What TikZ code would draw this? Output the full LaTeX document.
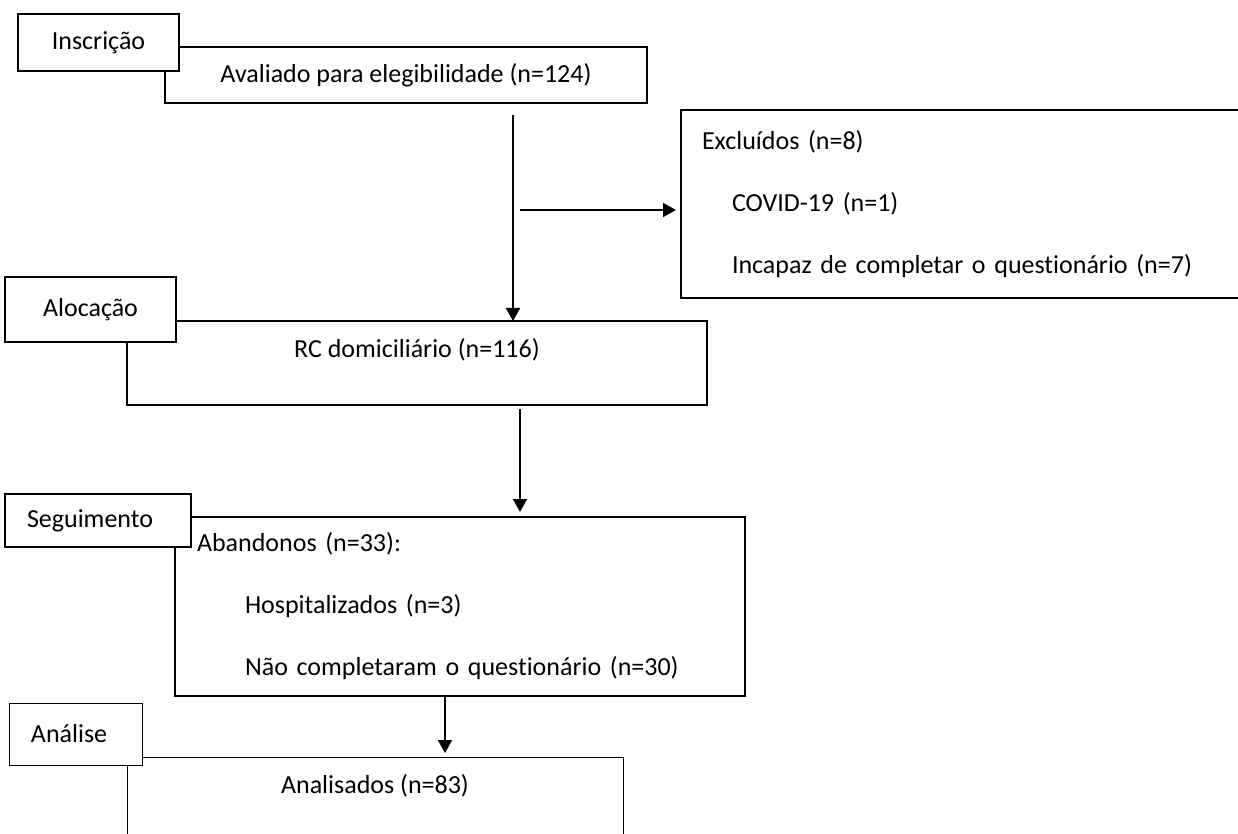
\documentclass[tikz,border=0pt]{standalone}
\usepackage{fontspec}
\setmainfont{Carlito}[Ligatures=NoCommon]
\usetikzlibrary{arrows.meta}

\begin{document}
\begin{tikzpicture}[x=0.5pt,y=-0.5pt,
  panel/.style={draw, line width=0.75pt, outer sep=0pt, anchor=north west,
    font=\fontsize{13}{31}\selectfont},
  stage/.style={panel, fill=white, inner sep=0pt, align=center},
  flow/.style={-{Triangle[length=6.5pt,width=7pt]}, line width=1pt}]

  \useasboundingbox (0,0) rectangle (1238,834);
  \fill[white] (0,0) rectangle (1238,834);
  \clip (0,0) rectangle (1238,834);

  \node[panel, minimum width=241pt, minimum height=28pt] (aval) at (165,47) {Avaliado para elegibilidade (n=124)};
  \node[panel, text width=263.5pt, inner xsep=10.5pt, minimum height=94pt, align=left] (excl) at (681,110)
    {Excluídos (n=8)\\ \hspace*{15pt}COVID-19 (n=1)\\ \hspace*{15pt}Incapaz de completar o questionário (n=7)};
  \node[panel, minimum width=290pt, inner ysep=0pt, text height=18.5pt, text depth=23.5pt] (rc) at (127,321) {RC domiciliário (n=116)};
  \node[panel, text width=263pt, inner xsep=11pt, minimum height=89.5pt, align=left] (aband) at (175,517)
    {Abandonos (n=33):\\ \hspace*{24pt}Hospitalizados (n=3)\\ \hspace*{24pt}Não completaram o questionário (n=30)};
  \node[panel, line width=0.5pt, minimum width=248pt, inner ysep=0pt, text height=18pt, text depth=32pt] (anld) at (127,757) {Analisados (n=83)};

  \node[stage, minimum width=80.5pt, minimum height=28.5pt] (ins) at (18,14) {Inscrição};
  \node[stage, minimum width=85.5pt, minimum height=32.5pt] (aloc) at (5,277) {Alocação};
  \node[stage, text width=71pt, inner xsep=11pt, minimum height=26.5pt, align=left] (seg) at (5,494) {Seguimento};
  \node[stage, line width=0.5pt, text width=44.5pt, inner xsep=11pt, minimum height=31pt, align=left] (anls) at (9,703) {Análise};

  \draw[flow] ([xshift=53.5pt,yshift=-6pt]aval.south) coordinate (split) -- (split |- rc.north);
  \draw[flow] ([xshift=3.5pt,yshift=-3pt]split |- excl.west) -- ([xshift=-2.5pt,yshift=-3pt]excl.west);
  \draw[flow, shorten >=2.5pt] ([xshift=51.5pt,yshift=-2pt]rc.south) coordinate (drop) -- (drop |- aband.north);
  \draw[flow, shorten >=2pt] ([xshift=-7.5pt]aband.south) -- ([xshift=-7.5pt]aband.south |- anld.north);

\end{tikzpicture}
\end{document}
